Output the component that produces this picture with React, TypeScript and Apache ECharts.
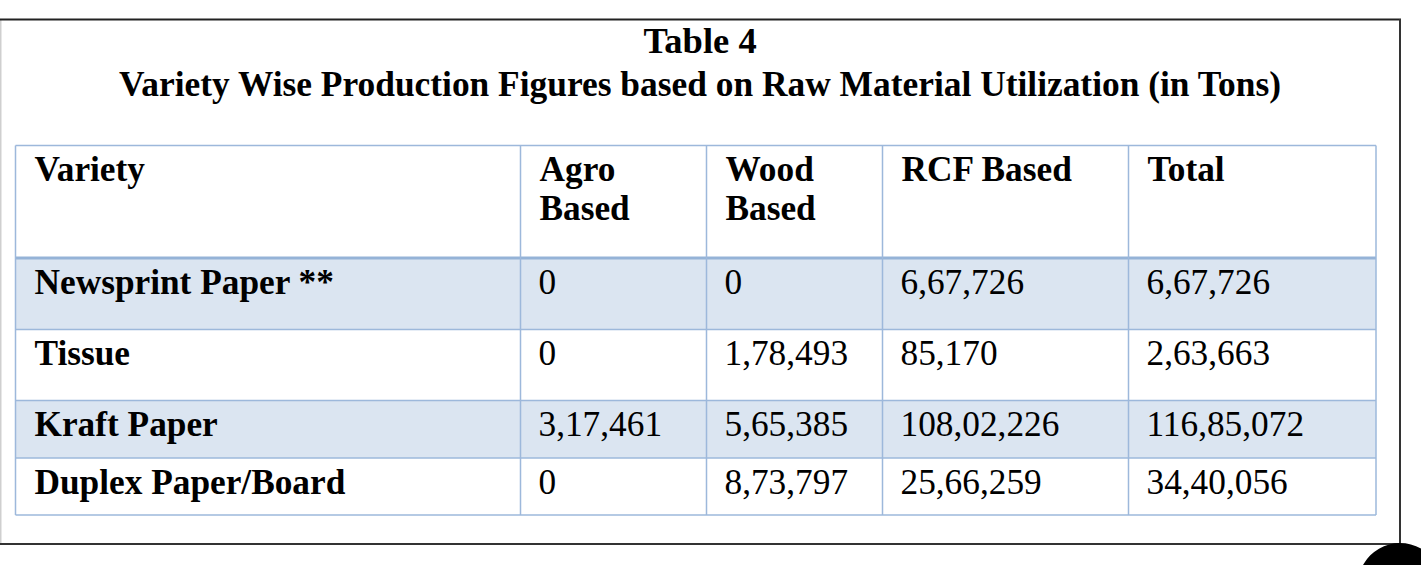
import React, { useEffect, useRef } from "react";
import * as echarts from "echarts";

// ---- data ----
const titleLine = "Table 4";
const subtitleLine = "Variety Wise Production Figures based on Raw Material Utilization (in Tons)";
const headers = ["Variety", "Agro\nBased", "Wood\nBased", "RCF Based", "Total"];
const varieties = ["Newsprint Paper **", "Tissue", "Kraft Paper", "Duplex Paper/Board"];
const agroBased = [0, 0, 317461, 0];
const woodBased = [0, 178493, 565385, 873797];
const rcfBased = [667726, 85170, 10802226, 2566259];
const totals = [667726, 263663, 11685072, 3440056];

// ---- layout ----
const W = 1421;
const H = 565;
const colEdges = [15.5, 520.5, 706.5, 882.5, 1128.5, 1376];
const rowEdges = [145.5, 258, 329.5, 400.5, 458, 515];
const FONT = "'Liberation Serif', 'Times New Roman', serif";
const FS = 35.3;
const BORDER = "#9DB8DB";
const BAND = "#DBE5F1";

function fmtIndian(n: number): string {
  const s = String(n);
  if (s.length <= 3) return s;
  const last3 = s.slice(-3);
  const rest = s.slice(0, -3);
  if (rest.length <= 2) return rest + "," + last3;
  return rest.slice(0, -2) + "," + rest.slice(-2) + "," + last3;
}

function txt(x: number, baseline: number, text: string, bold: boolean, align = "left", size = FS) {
  return {
    type: "text",
    x,
    y: baseline - size * 0.335 + 1.5,
    silent: true,
    style: {
      text,
      fill: "#000",
      font: `${bold ? "bold " : ""}${size}px ${FONT}`,
      align,
      verticalAlign: "middle",
    },
  };
}

function buildGraphics() {
  const els: any[] = [];
  // outer frame
  els.push({ type: "line", shape: { x1: 0.5, y1: 19.5, x2: 0.5, y2: 544 }, style: { stroke: "#cfcfcf", lineWidth: 2 } });
  els.push({ type: "line", shape: { x1: 0, y1: 19.5, x2: 1401, y2: 19.5 }, style: { stroke: "#222", lineWidth: 2.2 } });
  els.push({ type: "line", shape: { x1: 1400, y1: 19, x2: 1400, y2: 545 }, style: { stroke: "#333", lineWidth: 2 } });
  els.push({ type: "line", shape: { x1: 0, y1: 544, x2: 1401, y2: 544 }, style: { stroke: "#333", lineWidth: 2.2 } });
  // corner circle
  els.push({ type: "circle", shape: { cx: 1400, cy: 585, r: 42 }, style: { fill: "#000" } });

  // titles
  els.push(txt(700, 51, titleLine, true, "center", 36.5));
  els.push(txt(700, 94.5, subtitleLine, true, "center", 35.4));

  // band fills
  const x0 = colEdges[0];
  const x1 = colEdges[colEdges.length - 1];
  varieties.forEach((_, i) => {
    if (i % 2 === 0) {
      els.push({
        type: "rect",
        shape: { x: x0, y: rowEdges[i + 1], width: x1 - x0, height: rowEdges[i + 2] - rowEdges[i + 1] },
        style: { fill: BAND },
      });
    }
  });

  // grid lines
  rowEdges.forEach((y, i) => {
    els.push({
      type: "line",
      shape: { x1: x0, y1: y, x2: x1, y2: y },
      style: { stroke: i === 1 ? "#95B3D7" : BORDER, lineWidth: i === 1 ? 3 : 1.5 },
    });
  });
  colEdges.forEach((x) => {
    els.push({
      type: "line",
      shape: { x1: x, y1: rowEdges[0], x2: x, y2: rowEdges[rowEdges.length - 1] },
      style: { stroke: BORDER, lineWidth: 1.5 },
    });
  });

  // headers
  headers.forEach((h, c) => {
    h.split("\n").forEach((line, k) => {
      els.push(txt(colEdges[c] + 19, rowEdges[0] + 34 + k * 39, line, true));
    });
  });

  // body
  const cols = [agroBased, woodBased, rcfBased, totals];
  varieties.forEach((v, r) => {
    const base = rowEdges[r + 1] + 34.5;
    els.push(txt(colEdges[0] + 19, base, v, true));
    cols.forEach((arr, c) => {
      els.push(txt(colEdges[c + 1] + 18, base, fmtIndian(arr[r]), false));
    });
  });
  return els;
}

export default function App() {
  const ref = useRef<HTMLDivElement>(null);
  useEffect(() => {
    document.body.style.margin = "0";
    const chart = echarts.init(ref.current!, undefined, { renderer: "svg" });
    chart.setOption({
      animation: false,
      backgroundColor: "#fff",
      graphic: { elements: buildGraphics() },
    });
    return () => chart.dispose();
  }, []);
  return <div ref={ref} style={{ width: W, height: H, overflow: "hidden" }} />;
}
